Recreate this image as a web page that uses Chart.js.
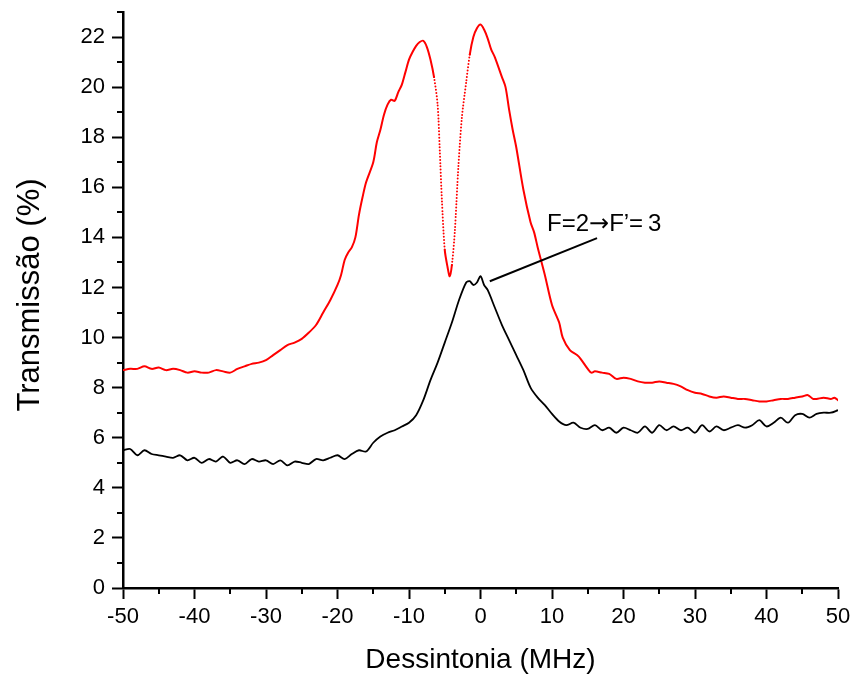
<!DOCTYPE html>
<html>
<head>
<meta charset="utf-8">
<script src="https://cdn.jsdelivr.net/npm/chart.js@4/dist/chart.umd.min.js"></script>
<style>
  html, body { margin: 0; padding: 0; background: #fff; }
  #wrap { width: 853px; height: 677px; }
</style>
</head>
<body>
<div id="wrap"><canvas id="grafico" width="853" height="677"></canvas></div>
<script>
// Curva vermelha (com feixe de acoplamento)
const redX = [-50, -49, -48, -47, -46, -45, -44, -43, -42, -41, -40, -39, -38, -37, -36, -35, -34, -33, -32, -31,
  -30, -29, -28, -27, -26, -25, -24, -23, -22, -21, -20, -19.5, -19, -18.5, -18, -17.5, -17, -16.5, -16, -15,
  -14.5, -14, -13.5, -13, -12.5, -12, -11.5, -11, -10.5, -10, -9.5, -9, -8.5, -8, -7.5, -7, -6.5, -6, -5.7, -5.4,
  -5, -4.6, -4.3, -4, -3.6, -3.1, -2.6, -2, -1.5, -1, -0.5, 0, 0.5, 1, 1.5, 2, 3, 3.5, 4, 4.5,
  5, 6, 7, 7.5, 8, 9, 10, 11, 11.5, 12.5, 13.5, 14, 15, 15.5, 16, 17, 18, 19, 20, 21,
  22, 23, 24, 25, 26, 27, 28, 29, 30, 31, 32, 33, 34, 35, 36, 37, 38, 39, 40, 41,
  42, 43, 44, 45, 45.8, 46.5, 47, 48, 49, 49.5, 50];
const redY = [8.7, 8.75, 8.75, 8.85, 8.75, 8.8, 8.7, 8.75, 8.7, 8.6, 8.65, 8.6, 8.6, 8.7, 8.65, 8.6, 8.75, 8.85, 8.95, 9.0,
  9.1, 9.3, 9.5, 9.7, 9.8, 9.95, 10.2, 10.5, 11.0, 11.5, 12.1, 12.5, 13.1, 13.4, 13.6, 14.0, 14.9, 15.6, 16.2, 17.0,
  17.8, 18.3, 18.9, 19.3, 19.5, 19.45, 19.8, 20.1, 20.6, 21.1, 21.4, 21.65, 21.8, 21.85, 21.6, 21.1, 20.4, 19.3, 17.5, 15.5,
  13.5, 12.8, 12.45, 12.9, 14.2, 16.8, 18.8, 20.2, 21.3, 22.0, 22.35, 22.5, 22.3, 21.95, 21.5, 21.2, 20.4, 20.0, 19.1, 18.3,
  17.6, 15.9, 14.6, 14.2, 13.6, 12.5, 11.3, 10.6, 10.0, 9.5, 9.3, 9.15, 8.75, 8.6, 8.65, 8.6, 8.55, 8.35, 8.4, 8.35,
  8.25, 8.2, 8.2, 8.25, 8.2, 8.15, 8.05, 7.9, 7.8, 7.75, 7.65, 7.6, 7.65, 7.6, 7.55, 7.55, 7.5, 7.45, 7.45, 7.5,
  7.55, 7.55, 7.6, 7.65, 7.7, 7.55, 7.55, 7.6, 7.55, 7.6, 7.5];

// Curva preta (sem acoplamento)
const blackX = [-50, -49, -48, -47, -46, -45, -44, -43, -42, -41, -40, -39, -38, -37, -36, -35, -34, -33, -32, -31,
  -30, -29, -28, -27, -26, -25, -24, -23, -22, -21, -20, -19, -18, -17, -16, -15, -14, -13, -12, -11,
  -10, -9, -8, -7, -6, -5, -4, -3, -2, -1.5, -1, -0.5, 0, 0.5, 1, 2, 3, 4, 5, 6,
  7, 8, 9, 10, 11, 12, 13, 14, 15, 16, 17, 18, 19, 20, 21, 22, 23, 24, 25, 26,
  27, 28, 29, 30, 31, 32, 33, 34, 35, 36, 37, 38, 39, 40, 41, 42, 43, 44, 45, 46,
  47, 48, 49, 50];
const blackY = [5.5, 5.55, 5.3, 5.5, 5.35, 5.3, 5.25, 5.2, 5.3, 5.1, 5.2, 5.0, 5.15, 5.05, 5.25, 5.0, 5.1, 4.95, 5.15, 5.05,
  5.1, 4.95, 5.1, 4.9, 5.05, 5.0, 4.95, 5.15, 5.1, 5.2, 5.3, 5.15, 5.35, 5.5, 5.45, 5.8, 6.05, 6.2, 6.3, 6.45,
  6.6, 6.9, 7.5, 8.3, 9.0, 9.8, 10.6, 11.5, 12.2, 12.25, 12.1, 12.2, 12.45, 12.1, 11.9, 11.2, 10.5, 9.9, 9.3, 8.7,
  8.0, 7.6, 7.3, 6.95, 6.65, 6.5, 6.6, 6.4, 6.35, 6.5, 6.3, 6.4, 6.2, 6.4, 6.3, 6.2, 6.45, 6.2, 6.5, 6.3,
  6.45, 6.3, 6.4, 6.2, 6.5, 6.25, 6.45, 6.3, 6.4, 6.5, 6.4, 6.5, 6.7, 6.45, 6.6, 6.8, 6.6, 6.9, 6.95, 6.8,
  6.95, 7.0, 7.0, 7.1];

// Eixos
const xMin = -50, xMax = 50, xMinor = 5;
const yMin = 0, yMax = 23, yMinor = 1;
const xTicks = [-50, -40, -30, -20, -10, 0, 10, 20, 30, 40, 50];
const yTicks = [0, 2, 4, 6, 8, 10, 12, 14, 16, 18, 20, 22];
const yTitle = "Transmissão (%)";

// Anotação: texto e linha indicadora (coordenadas em unidades dos dados)
const notePos = [9.3, 14.25];
const pointerFrom = [1.3, 12.25];
const pointerTo = [16.3, 13.97];

const toPoints = (xs, ys) => xs.map((x, i) => ({ x: x, y: ys[i] }));

const FONT = "'Liberation Sans', Arial, sans-serif";

// Desenha ticks menores, título do eixo y e a anotação usando as escalas do gráfico
const extrasPlugin = {
  id: "extras",
  afterDraw(chart) {
    const ctx = chart.ctx;
    const xs = chart.scales.x;
    const ys = chart.scales.y;
    const area = chart.chartArea;

    ctx.save();
    ctx.strokeStyle = "#000";
    ctx.lineWidth = 2;
    for (let v = xMin; v <= xMax; v += xMinor) {
      if (xTicks.includes(v)) continue;
      const px = Math.round(xs.getPixelForValue(v));
      ctx.beginPath();
      ctx.moveTo(px, area.bottom);
      ctx.lineTo(px, area.bottom + 6);
      ctx.stroke();
    }
    for (let v = yMin; v <= yMax; v += yMinor) {
      if (yTicks.includes(v)) continue;
      const py = Math.round(ys.getPixelForValue(v));
      ctx.beginPath();
      ctx.moveTo(area.left, py);
      ctx.lineTo(area.left - 6, py);
      ctx.stroke();
    }

    // título do eixo y (um pouco acima do centro, como no original)
    ctx.save();
    ctx.translate(30, ys.getPixelForValue(11.7));
    ctx.rotate(-Math.PI / 2);
    ctx.font = "31px " + FONT;
    ctx.fillStyle = "#000";
    ctx.textAlign = "center";
    ctx.textBaseline = "middle";
    ctx.fillText(yTitle, 0, 0);
    ctx.restore();

    // linha indicadora
    ctx.lineWidth = 2;
    ctx.beginPath();
    ctx.moveTo(xs.getPixelForValue(pointerFrom[0]), ys.getPixelForValue(pointerFrom[1]));
    ctx.lineTo(xs.getPixelForValue(pointerTo[0]), ys.getPixelForValue(pointerTo[1]));
    ctx.stroke();

    // texto, em partes para a seta
    ctx.fillStyle = "#000";
    ctx.textBaseline = "alphabetic";
    ctx.textAlign = "left";
    let tx = xs.getPixelForValue(notePos[0]);
    const ty = ys.getPixelForValue(notePos[1]);
    ctx.font = "24px " + FONT;
    ctx.fillText("F=2", tx, ty);
    tx += ctx.measureText("F=2").width;
    ctx.font = "24px 'DejaVu Sans'";
    ctx.fillText("\u2192", tx, ty);
    tx += ctx.measureText("\u2192").width;
    ctx.font = "24px " + FONT;
    ctx.fillText("F\u2019=\u20093", tx, ty);
    ctx.restore();
  },
};

const steep = (c) => {
  const dx = c.p1.parsed.x - c.p0.parsed.x;
  const dy = c.p1.parsed.y - c.p0.parsed.y;
  return Math.abs(dy / dx) > 2 ? [0, 3.2] : undefined;
};

new Chart(document.getElementById("grafico"), {
  type: "scatter",
  data: {
    datasets: [
      {
        label: "com acoplamento",
        data: toPoints(redX, redY),
        showLine: true,
        borderColor: "#ff0000",
        borderWidth: 2,
        borderCapStyle: "round",
        pointRadius: 0,
        tension: 0.3,
        segment: { borderDash: steep },
      },
      {
        label: "sem acoplamento",
        data: toPoints(blackX, blackY),
        showLine: true,
        borderColor: "#000000",
        borderWidth: 1.8,
        pointRadius: 0,
        tension: 0.3,
      },
    ],
  },
  options: {
    responsive: false,
    devicePixelRatio: 1,
    animation: false,
    layout: { padding: { top: 12, right: 15, left: 0, bottom: 0 } },
    plugins: {
      legend: { display: false },
      tooltip: { enabled: false },
    },
    scales: {
      x: {
        type: "linear",
        min: xMin,
        max: xMax,
        afterBuildTicks: (s) => { s.ticks = xTicks.map((v) => ({ value: v })); },
        afterFit: (s) => { s.height = 89; s.paddingRight = 0; s.paddingLeft = 0; },
        border: { display: true, color: "#000", width: 2.5 },
        grid: { display: true, drawOnChartArea: false, drawTicks: true, tickLength: 11, tickWidth: 2, tickColor: "#000" },
        ticks: { color: "#000", padding: 5, maxRotation: 0, autoSkip: false, font: { family: FONT, size: 22 } },
        title: { display: true, text: "Dessintonia (MHz)", color: "#000", padding: { top: 4, bottom: 0 }, font: { family: FONT, size: 28 } },
      },
      y: {
        type: "linear",
        min: yMin,
        max: yMax,
        afterBuildTicks: (s) => { s.ticks = yTicks.map((v) => ({ value: v })); },
        afterFit: (s) => { s.width = 123; s.paddingTop = 0; s.paddingBottom = 0; },
        border: { display: true, color: "#000", width: 2.5 },
        grid: { display: true, drawOnChartArea: false, drawTicks: true, tickLength: 11, tickWidth: 2, tickColor: "#000" },
        ticks: { color: "#000", padding: 7, autoSkip: false, font: { family: FONT, size: 22 } },
        title: { display: false },
      },
    },
  },
  plugins: [extrasPlugin],
});
</script>
</body>
</html>
